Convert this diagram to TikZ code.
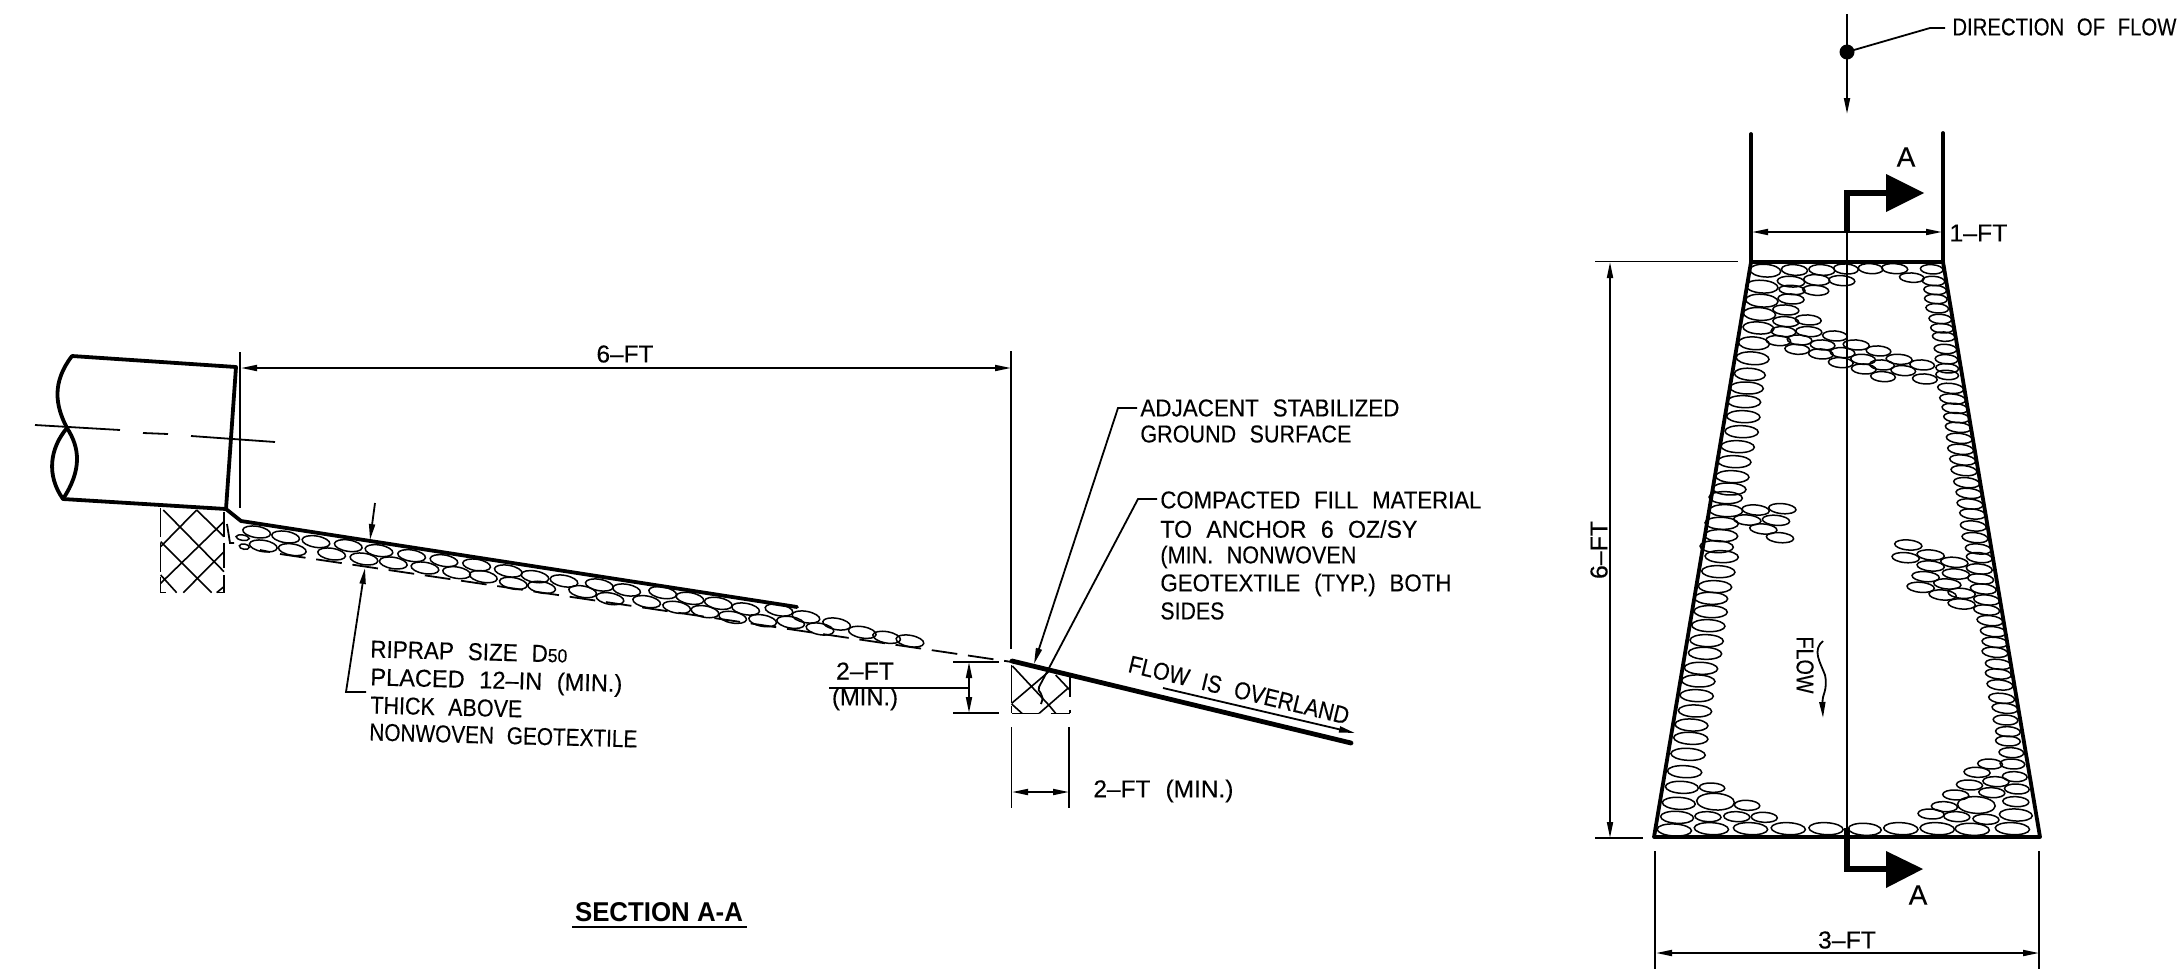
\documentclass[tikz,border=0pt]{standalone}
\usepackage{fontspec}
\setmainfont{Liberation Sans}[FakeBold=0.25]
\newfontfamily\secfont{Liberation Sans}[FakeStretch=0.95]
\usetikzlibrary{arrows.meta}
\newcommand\fl[2]{\resizebox{\dimexpr#1pt/2\relax}{\height}{\spaceskip=.62em\relax #2}}
\tikzset{
 thinl/.style={line width=0.9pt},
 thickl/.style={line width=1.9pt,line cap=round,line join=miter},
 rock/.style={line width=0.75pt},
 hatch/.style={line width=0.8pt},
 head/.style={-{Triangle[length=8pt,width=3pt]}},
 heads/.style={{Triangle[length=8pt,width=3pt]}-{Triangle[length=8pt,width=3pt]}},
 txt/.style={inner sep=0pt,font=\fontsize{12.2}{14}\selectfont,anchor=west},
 ctxt/.style={inner sep=0pt,font=\fontsize{12.2}{14}\selectfont},
}
\begin{document}
\begin{tikzpicture}[x=0.5pt,y=-0.5pt]
\useasboundingbox (0,0) rectangle (2178,969);
% ---------- SECTION A-A : pipe
\coordinate (pTL) at (72,356); \coordinate (pTR) at (236,367);
\coordinate (pBR) at (226,509); \coordinate (pBL) at (63,499);
\coordinate (pX) at (67,428);
\draw[thickl,line join=round] (pTL) -- (pTR) -- (pBR) -- (pBL);
\draw[thickl] (pTL) .. controls (52,382) and (55,405) .. (pX) .. controls (80,448) and (82,470) .. (pBL);
\draw[thickl] (pX) .. controls (50,448) and (46,475) .. (pBL);
\draw[thinl] (35,425) -- (120,430) (143,433) -- (168,434) (191,436) -- (275,442);
\coordinate (extA) at (240,352); \coordinate (extB) at (240,508);
\draw[thinl] (extA) -- (extB);
% ground lines
\coordinate (gA) at (241,521); \coordinate (gB) at (797,607);
\draw[thickl,line join=round] (pBR) -- (gA) -- (gB);
\coordinate (gC) at (1012,661); \coordinate (gD) at (1351,743);
\draw[line width=2.4pt,line cap=round] (gC) -- (gD);
% geotextile dashes
\draw[thinl] (227,524) -- (230,543) -- (234,543) (260,550) -- (270,552);
\draw[thinl,dash pattern=on 12.9pt off 5.4pt] (280,554) -- (1012,662);
% hatch block under pipe
\begin{scope}[shift={(0,320)},xscale=0.3333,yscale=0.3333]
\draw[hatch] (490,570) -- (672,755) (590,570) -- (672,650) (482,665) -- (635,818) (482,765) -- (530,818)
 (590,570) -- (482,680) (672,605) -- (482,790) (672,695) -- (550,818) (672,800) -- (650,818);
\draw[hatch] (482,565) -- (482,650) (482,668) -- (482,755) (482,772) -- (482,818) -- (498,818)
 (672,575) -- (672,650) (672,668) -- (672,745) (672,765) -- (672,818) -- (650,818);
\foreach \x/\y in {770/636,857/651,948/665,1045/677,1137/692,1235/707,1332/722,1430/735,
 790/678,877/689,995/702,1092/717,1180/729,1275/744,1370/758}
 \draw[rock] (\x,\y) circle [x radius=42,y radius=17,rotate=-9];
\draw[rock] (728,653) circle [x radius=20,y radius=8,rotate=-9];
\draw[rock] (733,680) circle [x radius=15,y radius=8,rotate=-9];
\end{scope}
\begin{scope}[shift={(480,520)},xscale=0.3333,yscale=0.3333]
\foreach \x/\y in {85/153,165/170,252/183,358/195,440/210,548/218,630/235,715/250,797/267,897/270,978/291,1070/312,1147/337,1220/352,1290/363,
 10/170,100/190,185/202,308/215,390/236,500/245,590/262,675/275,758/292,848/302,932/307,1020/327}
 \draw[rock] (\x,\y) circle [x radius=42,y radius=17,rotate=-10];
\end{scope}
% block at toe
\begin{scope}[shift={(800,560)},xscale=0.3827,yscale=0.3333]
\draw[hatch] (555,318) -- (650,435) -- (668,460) (553,430) -- (650,335) (625,460) -- (700,385)
 (668,345) -- (705,390) (553,432) -- (580,460);
\draw[hatch] (553,315) -- (553,430) (553,437) -- (553,460) (555,460) -- (625,460) (655,460) -- (705,460)
 (705,350) -- (705,410) (705,450) -- (705,460);
\end{scope}
% 6-FT dimension
\coordinate (dA) at (241,368); \coordinate (dB) at (1011,368);
\coordinate (exC) at (1011,351); \coordinate (exD) at (1011,649);
\draw[thinl] (exC) -- (exD);
\draw[thinl,heads] (dA) -- (dB);
\node[ctxt] (ft6) at (625,354) {\fl{57}{6–FT}};
% thickness arrows + riprap leader
\coordinate (thA) at (375,503); \coordinate (thB) at (370,540);
\draw[thinl,head] (thA) -- (thB);
\coordinate (lrA) at (366,692); \coordinate (lrB) at (346,692); \coordinate (lrC) at (365,568);
\draw[thinl,head] (lrA) -- (lrB) -- (lrC);
\node[txt,rotate=-1.5] (r1) at (370,649) {\fl{197}{RIPRAP SIZE D{\fontsize{9.5}{10}\selectfont 50}}};
\node[txt,rotate=-1.5] (r2) at (370,679) {\fl{252}{PLACED 12–IN (MIN.)}};
\node[txt,rotate=-1.5] (r3) at (370,705) {\fl{152}{THICK ABOVE}};
\node[txt,rotate=-1.5] (r4) at (369,732) {\fl{268}{NONWOVEN GEOTEXTILE}};
% callouts
\coordinate (adjA) at (1137,408); \coordinate (adjB) at (1118,408); \coordinate (adjC) at (1034,664);
\draw[thinl,head] (adjA) -- (adjB) -- (adjC);
\coordinate (cmA) at (1157,499); \coordinate (cmB) at (1138,499); \coordinate (cmC) at (1039,687);
\draw[thinl] (cmA) -- (cmB) -- (cmC) .. controls (1036,692) and (1046,693) .. (1041,704);
\node[txt] (a1) at (1140,408) {\fl{259}{ADJACENT STABILIZED}};
\node[txt] (a2) at (1140,434) {\fl{211}{GROUND SURFACE}};
\node[txt] (c1) at (1160,500) {\fl{321}{COMPACTED FILL MATERIAL}};
\node[txt] (c2) at (1160,529) {\fl{257}{TO ANCHOR 6 OZ/SY}};
\node[txt] (c3) at (1160,557) {\fl{196}{(MIN. NONWOVEN}};
\node[txt] (c4) at (1160,585) {\fl{291}{GEOTEXTILE (TYP.) BOTH}};
\node[txt] (c5) at (1160,611) {\fl{64}{SIDES}};
% toe dims
\coordinate (t1a) at (953,662); \coordinate (t1b) at (999,662);
\coordinate (t2a) at (953,713); \coordinate (t2b) at (999,713);
\draw[thinl] (t1a) -- (t1b) (t2a) -- (t2b);
\coordinate (t3) at (969,662); \coordinate (t4) at (969,713); \coordinate (t5) at (829,688); \coordinate (t6) at (969,688);
\draw[thinl,heads] (t3) -- (t4);
\draw[thinl] (t5) -- (t6);
\node[ctxt] (min1) at (865,671) {\fl{58}{2–FT}};
\node[ctxt] (min2) at (865,699) {\fl{66}{(MIN.)}};
\coordinate (w1a) at (1011.5,727); \coordinate (w1b) at (1011.5,808);
\coordinate (w2a) at (1069,727); \coordinate (w2b) at (1069,808);
\draw[thinl] (w1a) -- (w1b) (w2a) -- (w2b);
\coordinate (w3) at (1012,792); \coordinate (w4) at (1069,792);
\draw[thinl,heads] (w3) -- (w4);
\node[txt] (w5) at (1093,791) {\fl{140}{2–FT (MIN.)}};
\node[ctxt,rotate=-13.5] (ovl) at (1239,690) {\fl{226}{FLOW IS OVERLAND}};
\coordinate (fa) at (1163,688); \coordinate (fb) at (1355,733);
\draw[thinl,head] (fa) -- (fb);
% section title
\node[inner sep=0pt,font=\secfont\bfseries\fontsize{13.6}{15}\selectfont] (sec) at (659,912) {SECTION A-A};
\coordinate (s1) at (572,927); \coordinate (s2) at (747,927);
\draw[line width=1.3pt] (s1) -- (s2);
% ---------- PLAN
\coordinate (top) at (1847,14); \coordinate (tip) at (1847,114); \coordinate (dot) at (1847,52);
\draw[thinl,head] (top) -- (tip);
\fill (dot) circle [radius=7.5];
\coordinate (l1) at (1930,28); \coordinate (l2) at (1945,28);
\draw[thinl] (dot) -- (l1) -- (l2);
\node[txt] (dir) at (1952,27) {\fl{224}{DIRECTION OF FLOW}};
% walls
\coordinate (wTL) at (1751,134); \coordinate (wL) at (1751,262);
\coordinate (wTR) at (1943,133); \coordinate (wR) at (1943,262);
\coordinate (bL) at (1654,837); \coordinate (bR) at (2040,837);
\draw[thickl] (wTL) -- (wL) (wTR) -- (wR);
\draw[thickl,line join=round] (wL) -- (wR) -- (bR) -- (bL) -- cycle;
% center line & section arrows
\coordinate (cA) at (1847,232); \coordinate (cB) at (1847,837);
\draw[thinl] (cA) -- (cB);
\coordinate (a1a) at (1847,232); \coordinate (a1b) at (1847,193); \coordinate (a1c) at (1890,193);
\draw[line width=3pt,line join=miter] (a1a) -- (a1b) -- (a1c);
\fill (1886,174) -- (1924,193) -- (1886,212) -- cycle;
\node[ctxt,font=\fontsize{14}{15}\selectfont] (Atop) at (1906,157) {A};
\coordinate (a2a) at (1847,828); \coordinate (a2b) at (1847,869); \coordinate (a2c) at (1890,869);
\draw[line width=3pt,line join=miter] (a2a) -- (a2b) -- (a2c);
\fill (1886,851) -- (1923,869) -- (1886,888) -- cycle;
\node[ctxt,font=\fontsize{14}{15}\selectfont] (Abot) at (1918,895) {A};
% dims
\coordinate (f1a) at (1752,232); \coordinate (f1b) at (1942,232);
\draw[thinl,heads] (f1a) -- (f1b);
\node[txt] (ft1) at (1949,233) {\fl{58}{1–FT}};
\coordinate (h1) at (1595,261.5); \coordinate (h2) at (1738,261.5);
\coordinate (h3) at (1595,838); \coordinate (h4) at (1643,838);
\draw[thinl] (h1) -- (h2) (h3) -- (h4);
\coordinate (v1) at (1610,262); \coordinate (v2) at (1610,838);
\draw[thinl,heads] (v1) -- (v2);
\node[ctxt,rotate=90] (ft6b) at (1599,550) {\fl{58}{6–FT}};
\coordinate (e1a) at (1655,851); \coordinate (e1b) at (1655,969);
\coordinate (e2a) at (2039,851); \coordinate (e2b) at (2039,969);
\draw[thinl] (e1a) -- (e1b) (e2a) -- (e2b);
\coordinate (e3) at (1656,953); \coordinate (e4) at (2039,953);
\draw[thinl,heads] (e3) -- (e4);
\node[ctxt] (ft3) at (1847,940) {\fl{58}{3–FT}};
\node[ctxt,rotate=-90] (flowt) at (1805,665) {\fl{57}{FLOW}};
\coordinate (wv1) at (1823,641); \coordinate (wv2) at (1823,718);
\draw[thinl,head] (wv1) .. controls (1812,650) and (1820,662) .. (1825,675) .. controls (1828,690) and (1822,695) .. (wv2);
% plan rocks: upper part
\begin{scope}[shift={(1640,0)},xscale=0.3432,yscale=0.3333]
\foreach \x/\y/\a/\b in {365/812/45/19,450/810/38/16,530/810/38/16,600/807/36/15,672/806/36/15,742/806/38/15,850/808/33/14,792/833/36/14,
 355/860/47/19,355/902/47/19,348/942/47/19,345/984/45/18,332/1030/45/19,328/1075/48/19,320/1123/45/18,
 440/845/40/16,515/840/38/16,588/842/38/15,443/870/38/14,512/871/38/15,440/897/38/15,425/930/38/15,425/965/38/15,490/960/38/15,418/995/36/15,492/995/38/15,403/1022/36/15,465/1020/36/15,568/1008/36/15,630/1035/38/15,532/1035/36/15,458/1048/36/15,695/1053/36/15,590/1058/36/15,527/1062/36/15,755/1078/38/15,650/1078/36/15,705/1095/36/15,585/1088/36/15,822/1095/36/15,652/1107/36/15,767/1112/36/15,708/1130/36/15,830/1137/36/15,
 855/843/33/14,860/870/33/14,862/897/33/14,866/925/33/14,875/957/33/14,880/985/33/14,885/1010/33/14,890/1047/33/14,893/1078/33/14,895/1105/33/14,895/1125/33/14}
 \draw[rock] (\x,\y) circle [x radius=\a,y radius=\b,rotate=-4];
\end{scope}
% plan rocks: middle part
\begin{scope}[shift={(1640,380)},xscale=0.3333,yscale=0.3333]
\foreach \x/\y in {320/24,312/65,310/110,305/155,293/200,283/245,277/290,268/327,257/353,258/392,245/430,243/467,230/500,245/530,235/575,225/620,213/655,212/695,205/737,200/782,195/820,183/865,175/903,170/947,165/993}
 \draw[rock] (\x,\y) circle [x radius=50,y radius=18,rotate=-2];
\foreach \x/\y in {932/25,938/57,945/85,950/113,955/142,958/175,962/208,968/240,972/272,980/308,987/340,990/372,998/402,1000/438,1005/473,1015/507,1018/533,1018/567,1022/597,1030/627,1040/660,1040/690,1050/722,1060/755,1065/787,1065/817,1075/853,1075/882,1080/915,1085/955,1095/985}
 \draw[rock] (\x,\y) circle [x radius=39,y radius=15,rotate=-6];
\foreach \x/\y in {347/390,427/386,322/420,408/421,370/447,420/473,805/495,797/533,872/525,943/547,872/558,948/582,857/590,922/612,842/622,965/640,908/645,965/672}
 \draw[rock] (\x,\y) circle [x radius=41,y radius=15,rotate=-5];
\end{scope}
% plan rocks: lower part
\begin{scope}[shift={(1640,700)},xscale=0.3432,yscale=0.3333]
\foreach \x/\y/\a/\b in {150/75/48/18,148/115/50/18,140/163/50/18,130/215/50/18,122/262/48/18,113/310/48/18,108/352/48/18,100/390/50/18,
 210/263/37/14,220/305/55/25,312/316/37/15,198/350/38/15,282/350/38/15,362/352/38/15,208/386/50/18,322/386/50/18,432/386/50/18,542/386/50/18,655/388/48/18,760/386/50/18,866/386/50/18,968/388/50/18,1085/386/50/18,
 1095/345/48/18,1008/358/38/15,923/350/38/15,848/342/38/15,980/315/55/25,887/320/38/15,920/285/38/15,1095/305/38/15,1025/278/38/15,960/255/38/15,1098/267/36/15,1037/245/38/15,982/217/38/15,1092/230/36/15,1085/192/36/15,1020/192/36/15,1082/158/36/15,1072/123/36/15,1072/95/36/15,1065/60/36/15}
 \draw[rock] (\x,\y) circle [x radius=\a,y radius=\b,rotate=-3];
\end{scope}
\end{tikzpicture}
\end{document}
